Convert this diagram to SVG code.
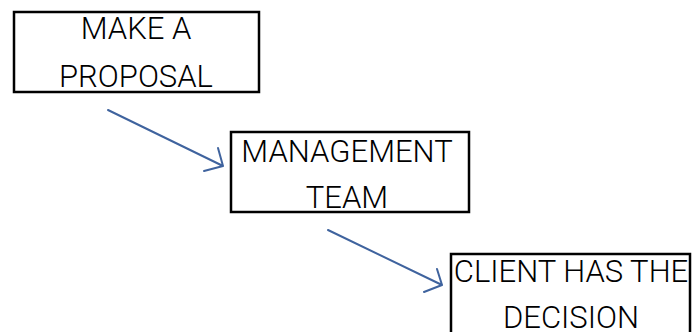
<svg xmlns="http://www.w3.org/2000/svg" width="695" height="332" viewBox="0 0 695 332">
  <defs>
    <style>
      .box { fill: #ffffff; stroke: #000000; stroke-width: 2.5; }
      .label { font-family: Roboto, "Liberation Sans", sans-serif; font-weight: 300; font-size: 31px; fill: #000000; text-anchor: middle; }
      .link { fill: none; stroke: #3f639e; stroke-width: 2; stroke-linecap: round; stroke-linejoin: round; }
    </style>
  </defs>
  <rect width="695" height="332" fill="#ffffff"/>

  <g id="connectors">
    <path class="link" d="M108,110 L223,166 M218,148 L223,166 L204,171"/>
    <path class="link" d="M328,230 L442,285 M437,269 L442,285 L424,292"/>
  </g>

  <g id="make-proposal">
    <rect class="box" x="14" y="12" width="245" height="80"/>
    <text class="label" x="136" y="39">MAKE A</text>
    <text class="label" x="136" y="87">PROPOSAL</text>
  </g>

  <g id="management-team">
    <rect class="box" x="231" y="132" width="238" height="80"/>
    <text class="label" x="347" y="162">MANAGEMENT</text>
    <text class="label" x="347" y="208">TEAM</text>
  </g>

  <g id="client-decision">
    <rect class="box" x="451" y="254" width="239" height="90"/>
    <text class="label" x="571" y="282">CLIENT HAS THE</text>
    <text class="label" x="571" y="328">DECISION</text>
  </g>
</svg>
